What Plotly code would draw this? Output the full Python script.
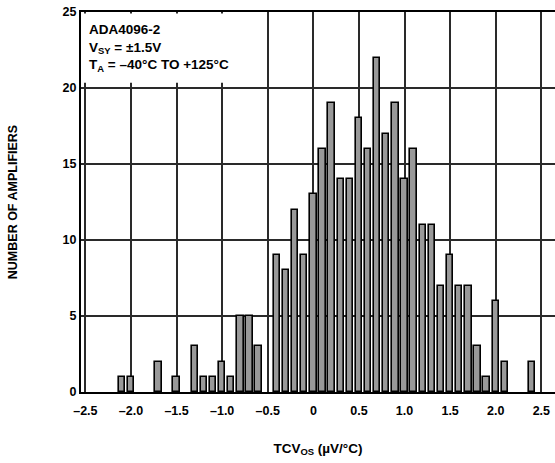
import plotly.graph_objects as go

# Histogram bins (µV/°C) and counts
bin_centers = [-2.1, -2.0, -1.7, -1.5, -1.3, -1.2, -1.1, -1.0, -0.9, -0.8, -0.7, -0.6,
               -0.4, -0.3, -0.2, -0.1, 0.0, 0.1, 0.2, 0.3, 0.4, 0.5, 0.6, 0.7, 0.8, 0.9,
               1.0, 1.1, 1.2, 1.3, 1.4, 1.5, 1.6, 1.7, 1.8, 1.9, 2.0, 2.1, 2.4]
counts = [1, 1, 2, 1, 3, 1, 1, 2, 1, 5, 5, 3,
          9, 8, 12, 9, 13, 16, 19, 14, 14, 18, 16, 22, 17, 19,
          14, 16, 11, 11, 7, 9, 7, 7, 3, 1, 6, 2, 2]

x_tickvals = [-2.5, -2.0, -1.5, -1.0, -0.5, 0, 0.5, 1.0, 1.5, 2.0, 2.5]
x_ticktext = ["–2.5", "–2.0", "–1.5", "–1.0", "–0.5", "0", "0.5", "1.0", "1.5", "2.0", "2.5"]
y_tickvals = [0, 5, 10, 15, 20, 25]

FONT = "Liberation Sans, Arial, sans-serif"

fig = go.Figure(go.Bar(
    x=bin_centers, y=counts, width=0.07,
    marker=dict(color="#999999", line=dict(color="#000000", width=1.6)),
))

fig.add_shape(type="rect", xref="x", yref="y", x0=-2.53, x1=-0.53, y0=20.35, y1=24.9,
              fillcolor="white", line=dict(width=0), layer="above")

fig.add_annotation(
    xref="paper", yref="paper", x=0.012, y=0.98, xanchor="left", yanchor="top",
    align="left", showarrow=False,
    text="ADA4096-2<br>V<sub>SY</sub> = ±1.5V<br>T<sub>A</sub> = –40°C TO +125°C",
    font=dict(family=FONT, size=13.5, color="black", weight="bold"),
)

fig.update_layout(
    width=555, height=463,
    margin=dict(l=81, r=0, t=12, b=71),
    plot_bgcolor="white", paper_bgcolor="white",
    showlegend=False,
    bargap=0,
    xaxis=dict(
        range=[-2.548, 2.65], tickvals=x_tickvals, ticktext=x_ticktext,
        showgrid=True, gridcolor="#2a2a2a", gridwidth=1.5,
        showline=True, linecolor="black", linewidth=2.2, mirror=True,
        zeroline=False, ticks="", ticklabelstandoff=6,
        tickfont=dict(family=FONT, size=12.5, color="black", weight="bold"),
        title=dict(text="TCV<sub>OS</sub> (µV/°C)", standoff=26,
                   font=dict(family=FONT, size=13.5, color="black", weight="bold")),
    ),
    yaxis=dict(
        range=[0, 25], tickvals=y_tickvals,
        showgrid=True, gridcolor="#2a2a2a", gridwidth=1.5,
        showline=True, linecolor="black", linewidth=2.2,
        zeroline=False, ticks="",
        tickfont=dict(family=FONT, size=12.5, color="black", weight="bold"),
        title=dict(text="NUMBER OF AMPLIFIERS", standoff=42,
                   font=dict(family=FONT, size=12.5, color="black", weight="bold")),
    ),
)

fig.write_html("out.html")
